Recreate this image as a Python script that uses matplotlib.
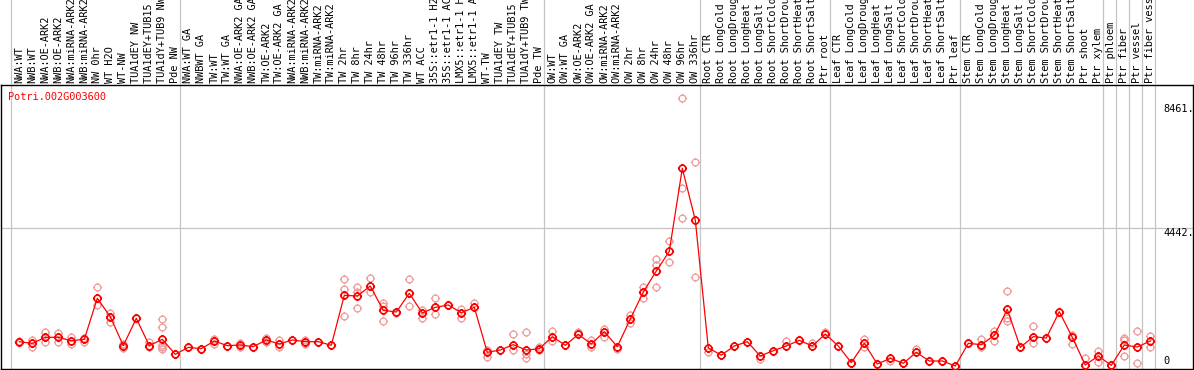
import matplotlib
matplotlib.use('Agg')
import matplotlib.pyplot as plt
import matplotlib.transforms as mtrans
from matplotlib.path import Path

gene = "Potri.002G003600"

labels = [
    "NWA:WT", "NWB:WT", "NWA:OE-ARK2", "NWB:OE-ARK2", "NWA:miRNA-ARK2", "NWB:miRNA-ARK2",
    "NW 0hr", "WT H2O", "WT-NW", "TUA1dEY NW", "TUA1dEY+TUB15 NW", "TUA1dY+TUB9 NW", "Pde NW",
    "NWA:WT GA", "NWBWT GA", "TW:WT", "TW:WT GA", "NWA:OE-ARK2 GA", "NWB:OE-ARK2 GA",
    "TW:OE-ARK2", "TW:OE-ARK2 GA", "NWA:miRNA-ARK2", "NWB:miRNA-ARK2", "TW:miRNA-ARK2",
    "TW:miRNA-ARK2 GA", "TW 2hr", "TW 8hr", "TW 24hr", "TW 48hr", "TW 96hr", "TW 336hr",
    "WT ACC", "35S::etr1-1 H2O", "35S::etr1-1 ACC", "LMX5::etr1-1 H2O", "LMX5::etr1-1 ACC",
    "WT-TW", "TUA1dEY TW", "TUA1dEY+TUB15 TW", "TUA1dY+TUB9 TW", "Pde TW",
    "OW:WT", "OW:WT GA", "OW:OE-ARK2", "OW:OE-ARK2 GA", "OW:miRNA-ARK2", "OW:miRNA-ARK2 GA",
    "OW 2hr", "OW 8hr", "OW 24hr", "OW 48hr", "OW 96hr", "OW 336hr",
    "Root CTR", "Root LongCold", "Root LongDrought", "Root LongHeat", "Root LongSalt",
    "Root ShortCold", "Root ShortDrought", "Root ShortHeat", "Root ShortSalt", "Ptr root",
    "Leaf CTR", "Leaf LongCold", "Leaf LongDrought", "Leaf LongHeat", "Leaf LongSalt",
    "Leaf ShortCold", "Leaf ShortDrought", "Leaf ShortHeat", "Leaf ShortSalt", "Ptr leaf",
    "Stem CTR", "Stem LongCold", "Stem LongDrought", "Stem LongHeat", "Stem LongSalt",
    "Stem ShortCold", "Stem ShortDrought", "Stem ShortHeat", "Stem ShortSalt", "Ptr shoot",
    "Ptr xylem", "Ptr phloem", "Ptr fiber", "Ptr vessel", "Ptr fiber vessel",
]

means = [
    784, 732, 925, 925, 817, 860, 2183, 1591, 656, 1538, 656, 860, 376,
    602, 559, 806, 656, 677, 624, 839, 710, 839, 784, 784, 667, 2280, 2258, 2580,
    1796, 1742, 2344, 1710, 1892, 1968, 1720, 1892, 441, 516, 688, 516, 559,
    946, 667, 1022, 710, 1108, 624, 1516, 2387, 3065, 3699, 6376, 4710,
    585, 350, 645, 785, 322, 494, 645, 828, 645, 1032,
    645, 108, 731, 64, 247, 86, 441, 161, 161, 0,
    731, 688, 989, 1828, 602, 946, 903, 1753, 925, 32, 322,
    22, 677, 613, 806,
]

reps = [
    [800, 760], [839, 602], [1108, 784], [1054, 784], [925, 710], [892, 784],
    [2538, 1968], [1720, 1430], [720, 590], [1538], [784, 600],
    [1505, 1247, 690, 600, 550], [376],
    [602], [559], [870, 710], [656], [740, 600], [624], [900, 760], [830, 600],
    [839], [840, 720], [784], [667], [2806, 2473, 1613], [2559, 2398, 1860],
    [2828, 2398], [2043, 1935, 1452], [1699], [2796, 1935], [1806, 1538],
    [2183, 1667], [1968], [1830, 1538], [2043], [516, 290], [516], [1032, 516],
    [1108, 387, 247], [600, 516],
    [1140, 817], [667], [1100], [850, 600], [1200, 950], [560], [1640, 1390],
    [2559, 2183], [3452, 3258, 2538], [4022, 3366], [8635, 5732, 4764], [6570, 2860],
    [450], [355], [645], [785], [220], [494], [817], [828], [750], [1100],
    [645], [108], [860, 620], [64], [150], [86], [540], [161], [161], [0],
    [731], [860, 600], [1130, 820], [2430, 1538, 1462], [602], [1290, 731], [903],
    [1753], [1000, 720], [247], [494, 140],
    [22], [892, 839, 322], [1129, 86], [968, 624],
]

group_starts = [0, 13, 41, 53, 63, 73, 84, 85, 86, 87, 88]
ytick_vals = [0, 4442, 8461]
ytick_text = ["0", "4442.", "8461."]

W, H = 1194, 370
fig = plt.figure(figsize=(W / 100, H / 100), dpi=100)
fig.patch.set_facecolor('white')

FS = 7.4
FONT = 'DejaVu Sans Mono'
PX = 13.0          # pixel spacing between samples
X0 = 19.3          # pixel x of first sample
Y0 = 366.0         # pixel y of value 0
K = 137.7 / 4442   # pixels per unit

ax_l, ax_r, ax_t, ax_b = 1, 1193, 85, 368.5
ax = fig.add_axes([ax_l / W, 1 - ax_b / H, (ax_r - ax_l) / W, (ax_b - ax_t) / H])
lab = fig.add_axes([ax_l / W, 1 - ax_t / H, (ax_r - ax_l) / W, ax_t / H])

xlim = ((ax_l - X0) / PX, (ax_r - X0) / PX)
ax.set_xlim(*xlim)
ax.set_ylim((Y0 - ax_b) / K, (Y0 - ax_t) / K)
lab.set_xlim(*xlim)
lab.set_ylim(ax_t, 0)
lab.axis('off')

for a in (ax,):
    for s in a.spines.values():
        s.set_color('black')
        s.set_linewidth(1.0)
ax.set_xticks([])
ax.set_yticks([])

grid_c = '#c4c4c4'
for g in group_starts:
    xs = g - 8.0 / PX
    ax.axvline(xs, color=grid_c, lw=0.9, zorder=0)
    lab.axvline(xs, color=grid_c, lw=0.9, zorder=0)
ax.axhline(ytick_vals[1], color=grid_c, lw=0.9, zorder=0)

# marker: circle with four small ticks
circ = Path.circle((0, 0), 1.0)
ticks = [Path([[1.0, 0], [1.35, 0]], [Path.MOVETO, Path.LINETO]),
         Path([[-1.0, 0], [-1.35, 0]], [Path.MOVETO, Path.LINETO]),
         Path([[0, 1.0], [0, 1.35]], [Path.MOVETO, Path.LINETO]),
         Path([[0, -1.0], [0, -1.35]], [Path.MOVETO, Path.LINETO])]
mk = Path.make_compound_path(circ, *ticks)

xs_all = list(range(len(means)))
rx, ry = [], []
for i, r in enumerate(reps):
    for v in r:
        rx.append(i)
        ry.append(v)
ax.plot(rx, ry, linestyle='none', marker=mk, markersize=6.6, markerfacecolor='none',
        markeredgecolor='#ef9a9a', markeredgewidth=0.9, zorder=2, clip_on=True)
ax.plot(xs_all, means, color='#ff0000', lw=0.9, zorder=3)
ax.plot(xs_all, means, linestyle='none', marker=mk, markersize=6.6, markerfacecolor='none',
        markeredgecolor='#ff0000', markeredgewidth=1.2, zorder=4)

for i, t in enumerate(labels):
    lab.text(i, ax_t - 2, t, rotation=90, ha='center', va='bottom', fontsize=FS,
             family=FONT, color='black', clip_on=False)

fig.text(8 / W, 1 - 97 / H, gene, color='#ff0000', fontsize=FS, family=FONT,
         ha='left', va='center')

tr = mtrans.blended_transform_factory(ax.transAxes, ax.transData)
xt = (1163 - ax_l) / (ax_r - ax_l)
for v, t in zip(ytick_vals, ytick_text):
    ax.text(xt, v, t, transform=tr, ha='left', va='bottom' if v == 0 else 'top',
            fontsize=FS, family=FONT, color='black')

fig.savefig('out.png', dpi=100, facecolor='white')
